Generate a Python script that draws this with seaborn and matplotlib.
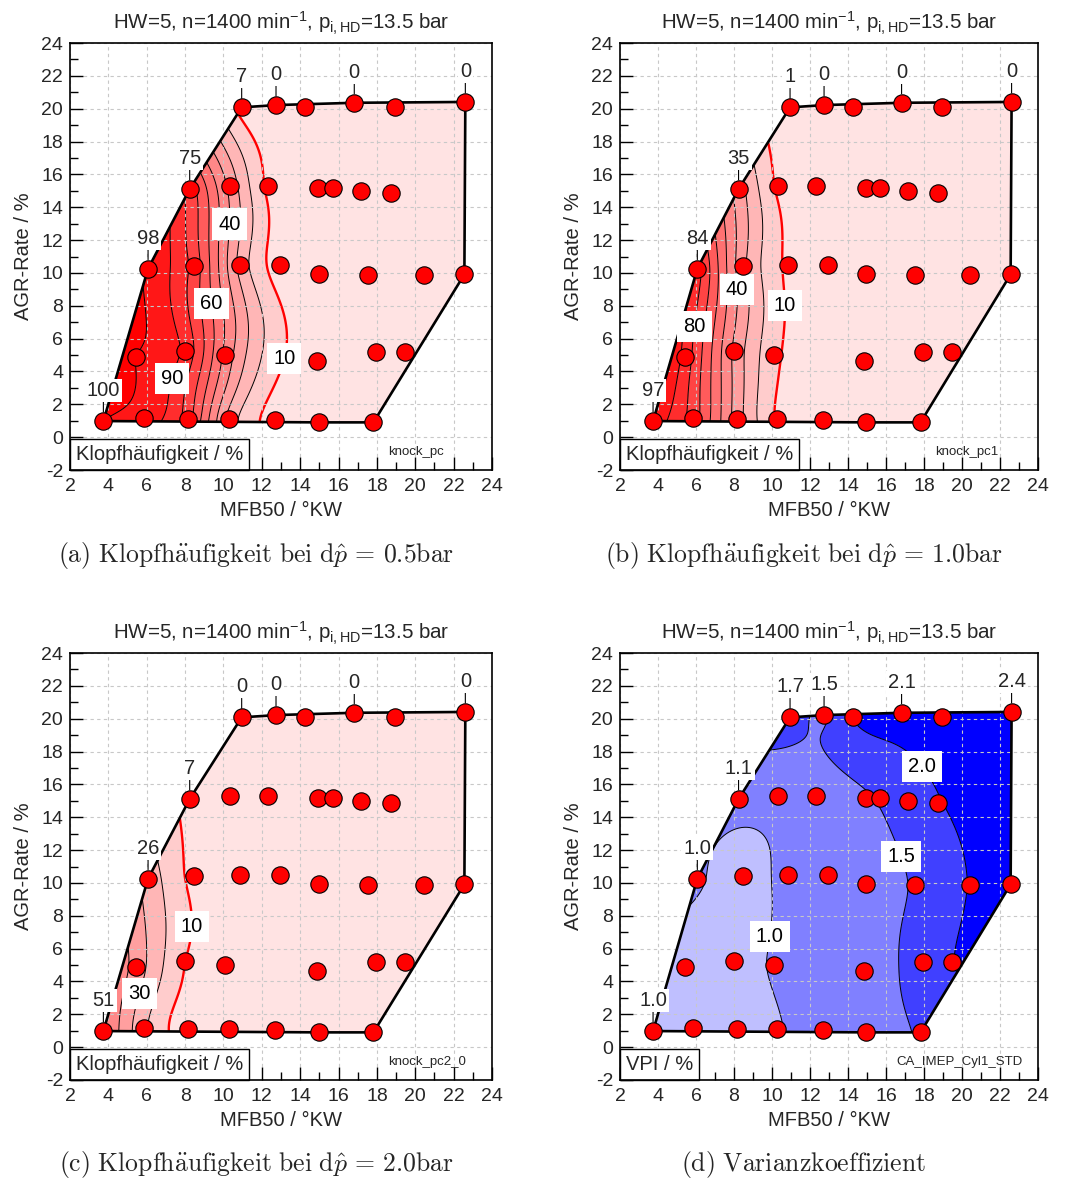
import numpy as np
import matplotlib
matplotlib.use("Agg")
import matplotlib.pyplot as plt
import seaborn as sns
from matplotlib.patches import Polygon
from matplotlib.offsetbox import AnchoredText
from matplotlib.ticker import MultipleLocator

# ---------------------------------------------------------------------------
# Operating points of the variation (MFB50 in degKW, EGR rate in %)
# ---------------------------------------------------------------------------
mfb50 = [10.95, 12.74, 14.25, 16.82, 18.94, 22.61,
         8.24, 10.34, 12.32, 14.95, 15.70, 17.16, 18.75,
         6.07, 8.46, 10.86, 12.95, 14.97, 17.55, 20.44, 22.56,
         5.44, 8.01, 10.10, 14.86, 17.97, 19.47,
         3.74, 5.86, 8.17, 10.27, 12.67, 14.97, 17.82]
agr_rate = [20.08, 20.22, 20.08, 20.36, 20.08, 20.41,
            15.11, 15.29, 15.29, 15.15, 15.19, 14.99, 14.88,
            10.26, 10.42, 10.46, 10.48, 9.93, 9.85, 9.87, 9.91,
            4.90, 5.24, 5.02, 4.63, 5.20, 5.20,
            0.98, 1.18, 1.12, 1.08, 1.04, 0.90, 0.90]

# knock frequency in % for pressure-oscillation thresholds 0.5 / 1.0 / 2.0 bar
knock_pc = [7, 0, 0, 0, 0, 0,
            75, 37, 8, 0, 0, 0, 0,
            98, 76, 27, 5, 0, 0, 0, 0,
            100, 87, 47, 3, 0, 0,
            100, 96, 74, 27, 6, 0, 0]
knock_pc1 = [1, 0, 0, 0, 0, 0,
             35, 8, 0, 0, 0, 0, 0,
             84, 33, 8, 1, 0, 0, 0, 0,
             86, 38, 13, 0, 0, 0,
             97, 75, 35, 9, 1, 0, 0]
knock_pc2_0 = [0, 0, 0, 0, 0, 0,
               7, 1, 0, 0, 0, 0, 0,
               26, 7, 1, 0, 0, 0, 0, 0,
               36, 10, 3, 0, 0, 0,
               51, 22, 4, 1, 0, 0, 0]
# coefficient of variation of IMEP (VPI) in %
ca_imep_cyl1_std = [1.7, 1.46, 2.0, 2.1, 2.2, 2.4,
                    1.12, 1.15, 1.25, 1.45, 1.55, 1.75, 1.97,
                    1.04, 0.87, 1.1, 1.2, 1.3, 1.55, 2.03, 2.4,
                    0.9, 0.88, 1.03, 1.3, 1.7, 1.98,
                    0.96, 0.9, 0.9, 0.98, 1.15, 1.3, 1.55]

# operating points annotated with their measured value
labelled_points = [0, 1, 3, 5, 6, 13, 27]

knock_levels = [10, 20, 30, 40, 50, 60, 70, 80, 90, 100]
vpi_levels = [1.0, 1.5, 2.0]

captions = [r"$\mathrm{(a)\ Klopfh\ddot{a}ufigkeit\ bei\ d}\hat{p}\,=\,0.5\mathrm{bar}$",
            r"$\mathrm{(b)\ Klopfh\ddot{a}ufigkeit\ bei\ d}\hat{p}\,=\,1.0\mathrm{bar}$",
            r"$\mathrm{(c)\ Klopfh\ddot{a}ufigkeit\ bei\ d}\hat{p}\,=\,2.0\mathrm{bar}$",
            r"$\mathrm{(d)\ Varianzkoeffizient}$"]
title = r"HW=5, n=1400 min$^{\mathregular{-1}}$, p$_{\mathregular{i,HD}}$=13.5 bar"

# ---------------------------------------------------------------------------
sns.set_style("white")
plt.rcParams["font.family"] = ["Liberation Sans", "DejaVu Sans"]
plt.rcParams["axes.unicode_minus"] = False
plt.rcParams["mathtext.fontset"] = "custom"
plt.rcParams["mathtext.rm"] = "Liberation Sans"
plt.rcParams["mathtext.it"] = "Liberation Sans:italic"
plt.rcParams["mathtext.bf"] = "Liberation Sans:bold"


def convex_hull(px, py):
    pts = sorted(set(zip(px, py)))

    def cross(o, a, b):
        return (a[0] - o[0]) * (b[1] - o[1]) - (a[1] - o[1]) * (b[0] - o[0])

    lower, upper = [], []
    for p in pts:
        while len(lower) >= 2 and cross(lower[-2], lower[-1], p) <= 0:
            lower.pop()
        lower.append(p)
    for p in reversed(pts):
        while len(upper) >= 2 and cross(upper[-2], upper[-1], p) <= 0:
            upper.pop()
        upper.append(p)
    return np.array(lower[:-1] + upper[:-1])


def tps_kernel(r):
    with np.errstate(divide="ignore", invalid="ignore"):
        k = r ** 2 * np.log(r)
    return np.nan_to_num(k)


def tps_surface(px, py, v, gx, gy):
    """Thin-plate-spline interpolation of the point values onto a grid."""
    px, py, v = (np.asarray(a, float) for a in (px, py, v))
    n = len(px)
    r = np.hypot(px[:, None] - px[None, :], py[:, None] - py[None, :])
    A = np.zeros((n + 3, n + 3))
    A[:n, :n] = tps_kernel(r)
    P = np.column_stack([np.ones(n), px, py])
    A[:n, n:] = P
    A[n:, :n] = P.T
    coef = np.linalg.solve(A, np.concatenate([v, np.zeros(3)]))
    w, a = coef[:n], coef[n:]
    X, Y = np.meshgrid(gx, gy)
    R = np.hypot(X[..., None] - px, Y[..., None] - py)
    Z = a[0] + a[1] * X + a[2] * Y + tps_kernel(R) @ w
    return X, Y, Z


red_bands = [(1.0, 1.0 - t, 1.0 - t) for t in np.linspace(0.11, 1.0, 11)]
blue_bands = ["#BFBFFF", "#8080FF", "#4040FF", "#0000FF"]

panels = [
    dict(values=knock_pc, levels=knock_levels, bands=red_bands, fmt="%d",
         label_levels=[10, 40, 60, 90],
         label_pos=[(13.16, 4.77), (10.24, 12.98), (9.56, 8.15), (7.44, 3.54)],
         box="Klopfhäufigkeit / %", tag="knock_pc", tag_x=0.755,
         rect=(70, 470, 422), cap=(256, 555), pfmt="{:.0f}"),
    dict(values=knock_pc1, levels=knock_levels, bands=red_bands, fmt="%d",
         label_levels=[10, 40, 80],
         label_pos=[(10.68, 8.04), (8.4, 9.0), (6.25, 6.68)],
         box="Klopfhäufigkeit / %", tag="knock_pc1", tag_x=0.755,
         rect=(620, 470, 418), cap=(804, 555), pfmt="{:.0f}"),
    dict(values=knock_pc2_0, levels=knock_levels, bands=red_bands, fmt="%d",
         label_levels=[10, 30],
         label_pos=[(8.14, 7.33), (5.65, 3.25)],
         box="Klopfhäufigkeit / %", tag="knock_pc2_0", tag_x=0.755,
         rect=(70, 1080, 422), cap=(256, 1165), pfmt="{:.0f}"),
    dict(values=ca_imep_cyl1_std, levels=vpi_levels, bands=blue_bands, fmt="%.1f",
         label_levels=[1.0, 1.5, 2.0],
         label_pos=[(9.46, 6.83), (16.42, 11.44), (17.7, 16.92)],
         box="VPI / %", tag="CA_IMEP_Cyl1_STD", tag_x=0.662,
         rect=(620, 1080, 418), cap=(803, 1165), pfmt="{:.1f}"),
]

W, H = 1065, 1180
fig = plt.figure(figsize=(W / 100, H / 100), dpi=100)

gx = np.linspace(2, 24, 320)
gy = np.linspace(-2, 24, 320)
hull = convex_hull(mfb50, agr_rate)

for k, p in enumerate(panels):
    left, bottom, width = p["rect"]
    ax = fig.add_axes([left / W, 1 - bottom / H, width / W, 427 / H])
    ax.set_xlim(2, 24)
    ax.set_ylim(-2, 24)

    X, Y, Z = tps_surface(mfb50, agr_rate, p["values"], gx, gy)
    lv = p["levels"]
    fill_levels = [-1e6] + list(lv) + [1e6]

    outline = Polygon(hull, closed=True, fill=False, edgecolor="black",
                      linewidth=1.9, zorder=3, joinstyle="miter")
    ax.add_patch(outline)

    cf = ax.contourf(X, Y, Z, levels=fill_levels, colors=p["bands"][:len(fill_levels) - 1],
                     zorder=1, antialiased=True)
    cf.set_clip_path(outline)

    line_colors = ["red" if (p["bands"] is red_bands and l == 10) else "black" for l in lv]
    line_widths = [1.7 if c == "red" else 0.7 for c in line_colors]
    cl = ax.contour(X, Y, Z, levels=lv, colors=line_colors, linewidths=line_widths, zorder=2)
    cl.set_clip_path(outline)

    # separate (invisible) set carrying only the labelled levels
    cl_lab = ax.contour(X, Y, Z, levels=p["label_levels"], colors="none", linewidths=0)
    labels = cl_lab.clabel(manual=p["label_pos"], inline=False,
                           fmt=p["fmt"], fontsize=14.5, colors="black")
    for t in labels:
        t.set_rotation(0)
        t.set_bbox(dict(boxstyle="square,pad=0.3", facecolor="white", edgecolor="none"))
        t.set_zorder(4.5)

    sns.scatterplot(x=mfb50, y=agr_rate, ax=ax, color="#FF0000", edgecolor="black",
                    linewidth=0.8, s=12.5 ** 2, zorder=5, legend=False)

    for i in labelled_points:
        ax.annotate(p["pfmt"].format(p["values"][i]), xy=(mfb50[i], agr_rate[i]),
                    xytext=(0, 22), textcoords="offset points", ha="center", va="center",
                    fontsize=14.5, zorder=6,
                    bbox=dict(boxstyle="square,pad=0.1", facecolor="white", edgecolor="none"),
                    arrowprops=dict(arrowstyle="-", color="black", lw=0.8,
                                    shrinkA=0, shrinkB=6.5))

    box = AnchoredText(p["box"], loc="lower left", frameon=True, borderpad=0, pad=0.3,
                       prop=dict(size=14.5))
    box.patch.set_edgecolor("black")
    box.patch.set_linewidth(1.0)
    box.zorder = 7
    ax.add_artist(box)

    ax.text(p["tag_x"], 0.042, p["tag"], transform=ax.transAxes, fontsize=9.5,
            ha="left", va="center", zorder=7)

    ax.xaxis.set_major_locator(MultipleLocator(2))
    ax.xaxis.set_minor_locator(MultipleLocator(1))
    ax.yaxis.set_major_locator(MultipleLocator(2))
    ax.yaxis.set_minor_locator(MultipleLocator(1))
    ax.tick_params(which="both", direction="in", top=False, right=False,
                   bottom=True, left=True, width=1.0, color="black")
    ax.tick_params(which="major", length=9.4, labelsize=14)
    ax.tick_params(which="minor", length=5.8)
    ax.tick_params(axis="x", which="major", pad=6)
    ax.tick_params(axis="y", which="major", pad=5)

    ax.grid(True, which="major", color="#C8C8C8", linestyle=(0, (3, 3)), linewidth=0.8)
    ax.set_axisbelow(False)
    for s in ax.spines.values():
        s.set_color("black")
        s.set_linewidth(1.2)
        s.set_zorder(8)

    ax.set_xlabel("MFB50 / °KW", fontsize=14.5, labelpad=4)
    ax.set_ylabel("AGR-Rate / %", fontsize=14.5, labelpad=6)
    ax.set_title(title, fontsize=14.8, pad=10)

    fig.text(p["cap"][0] / W, 1 - p["cap"][1] / H, captions[k],
             ha="center", va="center", fontsize=18.5, math_fontfamily="cm")

fig.savefig("out.png", dpi=100)
